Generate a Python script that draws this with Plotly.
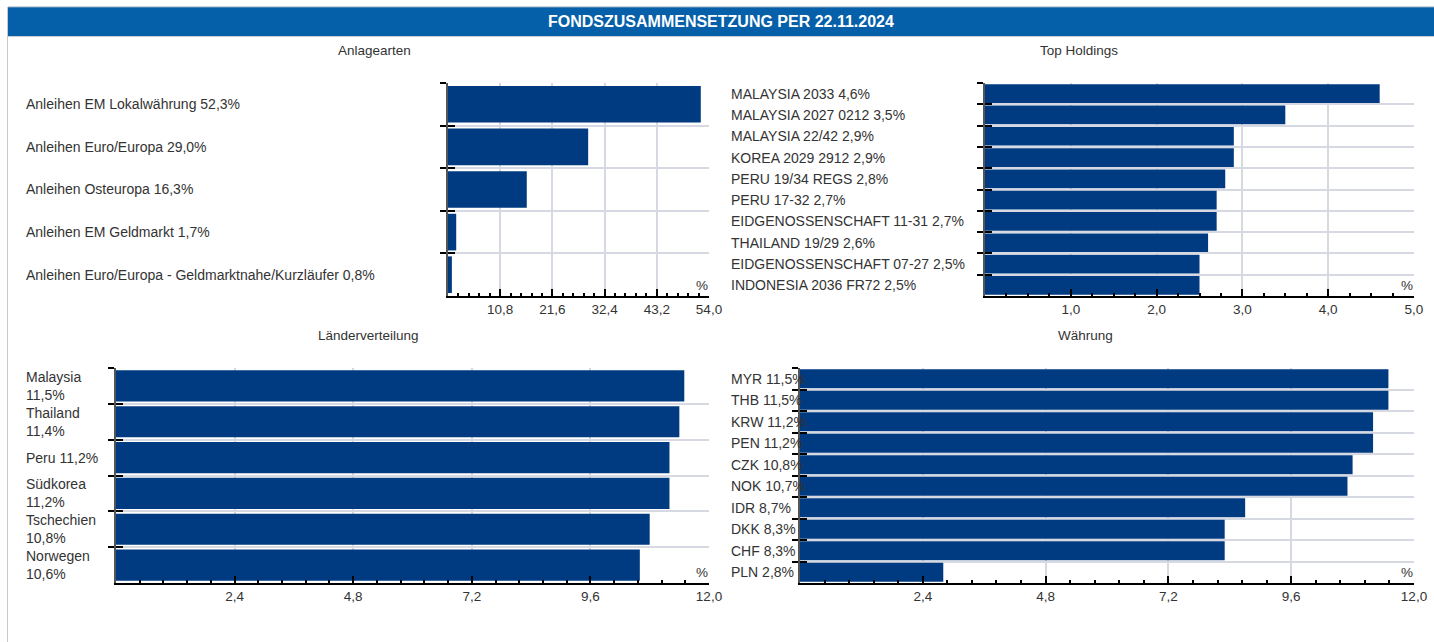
import plotly.graph_objects as go

W, H = 1434, 642

# --- data -------------------------------------------------------------
anlage_labels = [
    "Anleihen EM Lokalwährung 52,3%",
    "Anleihen Euro/Europa 29,0%",
    "Anleihen Osteuropa 16,3%",
    "Anleihen EM Geldmarkt 1,7%",
    "Anleihen Euro/Europa - Geldmarktnahe/Kurzläufer 0,8%",
]
anlage_values = [52.3, 29.0, 16.3, 1.7, 0.8]

holdings_labels = [
    "MALAYSIA 2033 4,6%",
    "MALAYSIA 2027 0212 3,5%",
    "MALAYSIA 22/42 2,9%",
    "KOREA 2029 2912 2,9%",
    "PERU 19/34 REGS 2,8%",
    "PERU 17-32 2,7%",
    "EIDGENOSSENSCHAFT 11-31 2,7%",
    "THAILAND 19/29 2,6%",
    "EIDGENOSSENSCHAFT 07-27 2,5%",
    "INDONESIA 2036 FR72 2,5%",
]
holdings_values = [4.6, 3.5, 2.9, 2.9, 2.8, 2.7, 2.7, 2.6, 2.5, 2.5]

laender_labels = [
    "Malaysia<br>11,5%",
    "Thailand<br>11,4%",
    "Peru 11,2%",
    "Südkorea<br>11,2%",
    "Tschechien<br>10,8%",
    "Norwegen<br>10,6%",
]
laender_values = [11.5, 11.4, 11.2, 11.2, 10.8, 10.6]

waehrung_labels = [
    "MYR 11,5%", "THB 11,5%", "KRW 11,2%", "PEN 11,2%", "CZK 10,8%",
    "NOK 10,7%", "IDR 8,7%", "DKK 8,3%", "CHF 8,3%", "PLN 2,8%",
]
waehrung_values = [11.5, 11.5, 11.2, 11.2, 10.8, 10.7, 8.7, 8.3, 8.3, 2.8]

anlage_ticks = [10.8, 21.6, 32.4, 43.2, 54.0]
holdings_ticks = [1.0, 2.0, 3.0, 4.0, 5.0]
laender_ticks = [2.4, 4.8, 7.2, 9.6, 12.0]
waehrung_ticks = [2.4, 4.8, 7.2, 9.6, 12.0]

# --- style ------------------------------------------------------------
BAR = "#003A80"
GRID = "#D6D9E2"
TXT = "#333333"
FONT = "Liberation Sans, Arial, sans-serif"
LABEL_SIZE = 14
AXIS_SIZE = 13.5


def px_x(v):
    return v / W


def px_y(v):
    return 1 - v / H


panels = [
    # title, title centre px, labels, values, ticks, minor step,
    # x-domain px, y-domain px, label x px, bar width
    ("Anlagearten", 374, anlage_labels, anlage_values, anlage_ticks, 2.16,
     (448, 709), (83, 296), 24, 0.86),
    ("Top Holdings", 1079, holdings_labels, holdings_values, holdings_ticks, 0.25,
     (985, 1414), (83, 296), 729, 0.88),
    ("Länderverteilung", 368, laender_labels, laender_values, laender_ticks, 0.48,
     (116, 709), (368, 583), 24, 0.87),
    ("Währung", 1085, waehrung_labels, waehrung_values, waehrung_ticks, 0.48,
     (800, 1414), (368, 583), 729, 0.88),
]

fig = go.Figure()
layout = dict(
    template="none",
    width=W, height=H, autosize=False,
    margin=dict(l=0, r=0, t=0, b=0, pad=0),
    paper_bgcolor="white", plot_bgcolor="white",
    showlegend=False,
    separators=",.",
    font=dict(family=FONT, size=13, color=TXT),
)
annotations = []
shapes = []

for i, (title, title_x, labels, values, ticks, minor_step, xd, yd, lab_x, bw) in enumerate(panels):
    n = len(values)
    k = i + 1
    xa, ya, yo = f"x{k}", f"y{k}", f"y{k + 4}"
    xmax = ticks[-1]
    cats = list(range(n))
    bounds = [c - 0.5 for c in cats]

    fig.add_trace(go.Bar(
        x=values, y=cats, orientation="h", width=bw,
        marker=dict(color=BAR, line=dict(width=0)),
        xaxis=xa, yaxis=ya, hoverinfo="skip",
    ))
    # empty trace so the overlay tick axis gets drawn
    fig.add_trace(go.Scatter(x=[], y=[], xaxis=xa, yaxis=yo, hoverinfo="skip"))

    dom_x = [px_x(xd[0]), px_x(xd[1])]
    dom_y = [px_y(yd[1]), px_y(yd[0])]

    layout[f"xaxis{k}"] = dict(
        domain=dom_x, anchor=ya, range=[0, xmax], automargin=False,
        tickmode="array", tickvals=ticks, tickformat=".1f",
        ticks="inside", ticklen=7, tickwidth=2, tickcolor="black",
        showline=True, linecolor="black", linewidth=2,
        showgrid=True, gridcolor=GRID, gridwidth=2, zeroline=False,
        minor=dict(tickmode="linear", tick0=0, dtick=minor_step,
                   ticks="inside", ticklen=3, tickwidth=1.5, tickcolor="black",
                   showgrid=False),
        tickfont=dict(family=FONT, size=AXIS_SIZE, color=TXT),
        fixedrange=True,
    )
    layout[f"yaxis{k}"] = dict(
        domain=dom_y, anchor=xa, range=[n - 0.5, -0.5], automargin=False,
        tickmode="array", tickvals=bounds, showticklabels=False,
        ticks="outside", ticklen=6, tickwidth=2, tickcolor="black",
        showline=True, linecolor="#555555", linewidth=1.5,
        showgrid=True, gridcolor=GRID, gridwidth=2, zeroline=False,
        fixedrange=True,
    )
    layout[f"yaxis{k + 4}"] = dict(
        overlaying=ya, anchor=xa, side="left", range=[n - 0.5, -0.5],
        automargin=False,
        tickmode="array", tickvals=bounds, showticklabels=False,
        ticks="inside", ticklen=7, tickwidth=2, tickcolor="black",
        showline=False, showgrid=False, zeroline=False, fixedrange=True,
    )

    # category labels
    for c, lab in zip(cats, labels):
        annotations.append(dict(
            text=lab, xref="paper", x=px_x(lab_x), xanchor="left",
            yref=ya, y=c, yanchor="middle", showarrow=False, align="left",
            font=dict(family=FONT, size=LABEL_SIZE, color=TXT),
        ))

    # panel title
    annotations.append(dict(
        text=title, xref="paper", yref="paper",
        x=px_x(title_x), y=px_y(yd[0] - 33), yanchor="middle", xanchor="center",
        showarrow=False, font=dict(family=FONT, size=AXIS_SIZE, color=TXT),
    ))

    # unit marker at the end of the value axis
    annotations.append(dict(
        text="%", xref="paper", yref="paper",
        x=px_x(xd[1] + 1), xanchor="right", y=px_y(yd[1] - 1), yanchor="bottom",
        showarrow=False, font=dict(family=FONT, size=AXIS_SIZE, color=TXT),
    ))

# header band
shapes.append(dict(type="rect", xref="paper", yref="paper",
                   x0=px_x(8), x1=1, y0=px_y(36), y1=px_y(7),
                   fillcolor="#0560A9", line=dict(width=0), layer="below"))
shapes.append(dict(type="line", xref="paper", yref="paper",
                   x0=px_x(8), x1=1, y0=px_y(7), y1=px_y(7),
                   line=dict(color="#8FA6BD", width=1)))
shapes.append(dict(type="line", xref="paper", yref="paper",
                   x0=px_x(8), x1=1, y0=px_y(36.5), y1=px_y(36.5),
                   line=dict(color="#C9CED6", width=1)))
# left frame line
shapes.append(dict(type="line", xref="paper", yref="paper",
                   x0=px_x(7.5), x1=px_x(7.5), y0=0, y1=px_y(7),
                   line=dict(color="#C8C8C8", width=1)))

annotations.append(dict(
    text="<b>FONDSZUSAMMENSETZUNG PER 22.11.2024</b>",
    xref="paper", yref="paper", x=px_x(721), y=px_y(21.5),
    xanchor="center", yanchor="middle", showarrow=False,
    font=dict(family=FONT, size=16, color="white"),
))

layout["annotations"] = annotations
layout["shapes"] = shapes
fig.update_layout(**layout)

fig.write_html(
    "out.html",
    config={"responsive": False, "displayModeBar": False},
)
